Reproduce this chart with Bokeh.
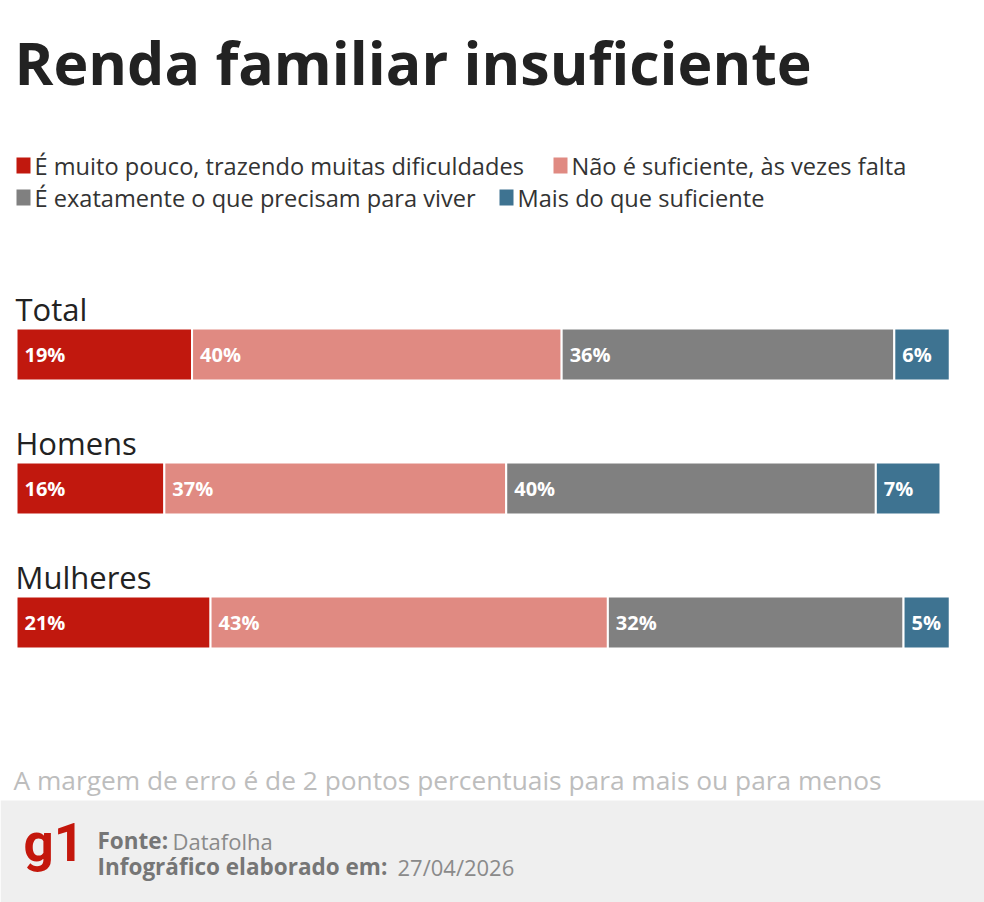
from bokeh.plotting import figure
from bokeh.models import Range1d, Label, ColumnDataSource, BoxAnnotation
from bokeh.core.properties import value
from bokeh.embed import file_html
from bokeh.resources import INLINE

# ---- data ----
categories = ["Total", "Homens", "Mulheres"]
series_names = [
    "É muito pouco, trazendo muitas dificuldades",
    "Não é suficiente, às vezes falta",
    "É exatamente o que precisam para viver",
    "Mais do que suficiente",
]
muito_pouco = [19, 16, 21]
nao_suficiente = [40, 37, 43]
exatamente = [36, 40, 32]
mais_que = [6, 7, 5]
colors = ["#c1180e", "#e08a82", "#808080", "#3e7391"]

title_text = "Renda familiar insuficiente"
note_text = "A margem de erro é de 2 pontos percentuais para mais ou para menos"

# ---- layout constants ----
W, H = 984, 902
X0 = 16.0          # pixel where 0% sits
PXPP = 9.24        # pixels per percentage point
ROW_CENTERS = [354, 488, 622]
BAR_H = 52

p = figure(width=W, height=H,
           x_range=Range1d(-X0 / PXPP, (W - X0) / PXPP),
           y_range=Range1d(H, 0),
           output_backend="svg", toolbar_location=None, min_border=0)
p.axis.visible = False
p.grid.visible = False
p.outline_line_color = None
p.background_fill_color = "white"
p.border_fill_color = "white"

def sx(px):
    return (px - X0) / PXPP

def sl(text, x, y, size, color="#222222", style="normal", font="Open Sans",
      align="left"):
    # y is the vertical middle of the text, in pixels from the top
    p.add_layout(Label(x=x, y=H - y, x_units="screen", y_units="screen",
                       text=text, text_font=font, text_font_size=f"{size}px",
                       text_font_style=style, text_color=color,
                       text_baseline="middle", text_align=align))

def mid(baseline, size):
    return baseline - 0.39 * size

# footer band
p.add_layout(BoxAnnotation(top=800, bottom=H, fill_color="#efefef",
                           fill_alpha=1.0, line_color=None, level="underlay"))

# title
sl(title_text, 14, mid(85, 59), 59, color="#222222", style="bold")

# legend
leg_pos = [(16, 165), (553, 165), (16, 197), (499, 197)]
for (lx, ly), name, col in zip(leg_pos, series_names, colors):
    p.rect(x=[sx(lx + 7)], y=[ly], width=14 / PXPP, height=16,
           fill_color=col, line_color=None)
    sl(name, lx + 18, ly, 23.6, color="#333333")

# bars
series = [muito_pouco, nao_suficiente, exatamente, mais_que]
left = [0] * len(categories)
for vals, col in zip(series, colors):
    right = [l + v for l, v in zip(left, vals)]
    src = ColumnDataSource(dict(y=ROW_CENTERS, left=left, right=right,
                                lab=[f"{v}%" for v in vals]))
    p.hbar(y="y", left="left", right="right", height=BAR_H, source=src,
           fill_color=col, line_color="white", line_width=2)
    p.text(x="left", y="y", text="lab", source=src, x_offset=8,
           text_font=value("Open Sans"), text_font_style="bold",
           text_font_size="20px", text_color="white",
           text_baseline="middle", text_align="left")
    left = right

# category labels
for cat, yc in zip(categories, ROW_CENTERS):
    sl(cat, 15, mid(yc - BAR_H / 2 - 7, 31), 31, color="#222222")

# note
sl(note_text, 13, mid(790, 26.3), 26.3, color="#bdbdbd")

# footer
sl("g1", 23, mid(863, 53), 53, color="#c4170c", style="bold", font="Roboto")
sl("Fonte:", 97, 840, 22.5, color="#767676", style="bold")
sl("Datafolha", 172, 840, 22, color="#8a8a8a")
sl("Infográfico elaborado em:", 97, 866, 22.5, color="#767676", style="bold")
sl("27/04/2026", 397, 866, 22, color="#8a8a8a")

open("out.html", "w").write(file_html(p, INLINE))
